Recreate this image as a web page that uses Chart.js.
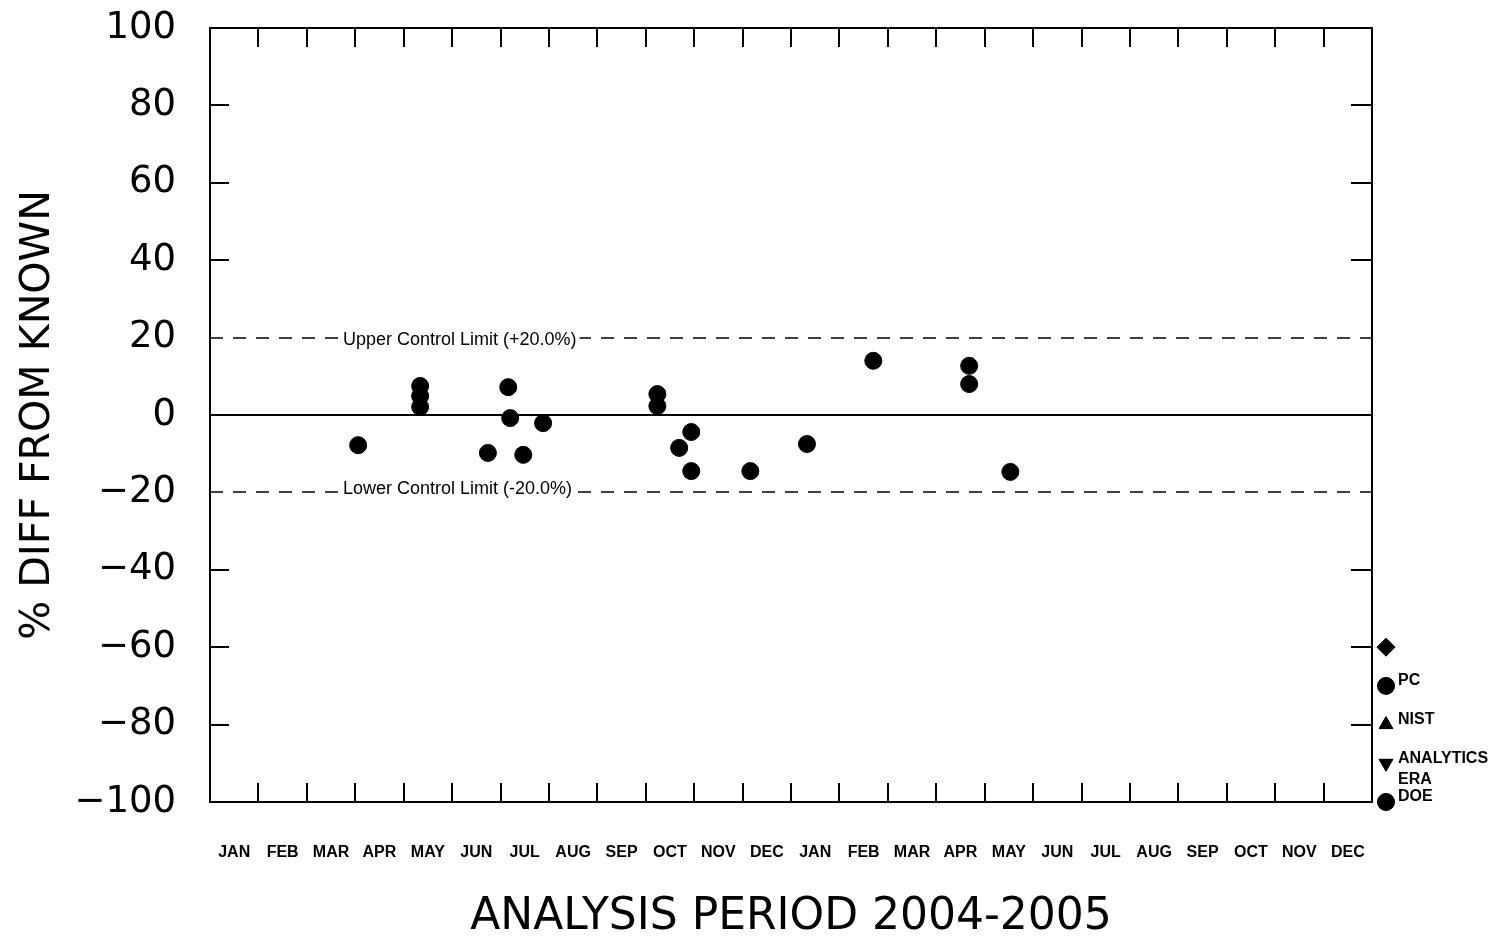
<!DOCTYPE html>
<html>
<head>
<meta charset="utf-8">
<script src="https://cdn.jsdelivr.net/npm/chart.js@4/dist/chart.umd.min.js"></script>
<style>
  html, body { margin: 0; padding: 0; background: #fff; }
  #wrap { width: 1499px; height: 944px; }
</style>
</head>
<body>
<div id="wrap"><canvas id="qcChart" width="1499" height="944"></canvas></div>
<script>
// months Jan 2004 .. Dec 2005
const monthLabels = ["JAN", "FEB", "MAR", "APR", "MAY", "JUN", "JUL", "AUG", "SEP", "OCT", "NOV", "DEC",
                     "JAN", "FEB", "MAR", "APR", "MAY", "JUN", "JUL", "AUG", "SEP", "OCT", "NOV", "DEC"];
// sample date in months since 1 Jan 2004
const sampleMonth = [3.06, 4.34, 4.34, 4.34, 5.74, 6.16, 6.20, 6.47, 6.88, 9.24, 9.24,
                     9.69, 9.94, 9.94, 11.16, 12.33, 13.70, 15.68, 15.68, 16.53];
const pctDiff = [-7.8, 7.5, 4.9, 2.1, -9.8, 7.2, -0.8, -10.3, -2.1, 5.4, 2.3,
                 -8.5, -4.4, -14.5, -14.5, -7.5, 14.0, 12.7, 8.0, -14.7];
const yTicks = [-100, -80, -60, -40, -20, 0, 20, 40, 60, 80, 100];
const upperLimit = 20;
const lowerLimit = -20;
const legendLevels = [-60, -70, -80, -90, -100];
const legendStyles = ["rectRot", "circle", "triangle", "triangleDown", "circle"];
const legendNames = ["", "PC", "NIST", "ANALYTICS", "DOE"];

const smallFont = "bold 16px 'Liberation Sans Narrow', 'Liberation Sans', sans-serif";

const controlChartDecor = {
    id: "controlChartDecor",
    beforeDatasetsDraw(chart) {
        const { ctx, chartArea: a, scales: { x, y } } = chart;
        ctx.save();
        ctx.strokeStyle = "#000";
        ctx.lineWidth = 2;
        ctx.strokeRect(a.left, a.top, a.right - a.left, a.bottom - a.top);

        // inward tick marks
        ctx.beginPath();
        for (let m = 1; m < monthLabels.length; m++) {
            const px = Math.round(x.getPixelForValue(m));
            ctx.moveTo(px, a.top); ctx.lineTo(px, a.top + 19);
            ctx.moveTo(px, a.bottom); ctx.lineTo(px, a.bottom - 19);
        }
        yTicks.forEach(v => {
            if (Math.abs(v) === 100 || Math.abs(v) <= 20) return;
            const py = Math.round(y.getPixelForValue(v));
            ctx.moveTo(a.left, py); ctx.lineTo(a.left + 19, py);
            ctx.moveTo(a.right, py); ctx.lineTo(a.right - 21, py);
        });
        ctx.stroke();

        // zero line
        const y0 = Math.round(y.getPixelForValue(0));
        ctx.beginPath();
        ctx.moveTo(a.left, y0); ctx.lineTo(a.right, y0);
        ctx.stroke();

        // control limits
        ctx.lineWidth = 1.6;
        ctx.setLineDash([13, 10]);
        [upperLimit, lowerLimit].forEach(v => {
            const py = Math.round(y.getPixelForValue(v));
            ctx.beginPath();
            ctx.moveTo(a.left, py); ctx.lineTo(a.right, py);
            ctx.stroke();
        });
        ctx.setLineDash([]);

        ctx.font = "18px 'Liberation Sans', sans-serif";
        ctx.fillStyle = "#000";
        ctx.textBaseline = "middle";
        const tx = a.left + 133;
        const labels = [
            ["Upper Control Limit (+20.0%)", upperLimit, 2],
            ["Lower Control Limit (-20.0%)", lowerLimit, -3]
        ];
        labels.forEach(([txt, v, dy]) => {
            const py = y.getPixelForValue(v) + dy;
            const w = ctx.measureText(txt).width;
            ctx.fillStyle = "#fff";
            ctx.fillRect(tx - 3, py - 8, w + 6, 14);
            ctx.fillStyle = "#000";
            ctx.fillText(txt, tx, py);
        });
        ctx.restore();
    },
    afterDraw(chart) {
        const { ctx, chartArea: a, scales: { y } } = chart;
        ctx.save();
        ctx.fillStyle = "#000";
        ctx.strokeStyle = "#000";
        const sx = a.right + 14;
        legendLevels.forEach((v, i) => {
            const py = y.getPixelForValue(v);
            const style = legendStyles[i];
            if (style === "triangleDown") {
                Chart.helpers.drawPoint(ctx, { pointStyle: "triangle", radius: 8, rotation: 180, borderWidth: 1 }, sx, py);
            } else {
                const r = style === "circle" ? 8.5 : (style === "rectRot" ? 9 : 8);
                Chart.helpers.drawPoint(ctx, { pointStyle: style, radius: r, rotation: 0, borderWidth: 1 }, sx, py);
            }
            ctx.fill();
            ctx.font = smallFont;
            ctx.textBaseline = "middle";
            ctx.fillText(legendNames[i], sx + 12, py - 5);
        });
        // ERA label sits between ANALYTICS and DOE
        ctx.fillText("ERA", sx + 12, y.getPixelForValue(-94.2));
        ctx.restore();
    }
};

new Chart(document.getElementById("qcChart"), {
    type: "scatter",
    data: {
        datasets: [
            {
                label: "PC",
                data: sampleMonth.map((m, i) => ({ x: m, y: pctDiff[i] })),
                backgroundColor: "#000",
                borderColor: "#000",
                pointStyle: "circle",
                pointRadius: 8.5,
                pointHoverRadius: 8.5
            }
        ]
    },
    options: {
        responsive: false,
        animation: false,
        layout: { padding: { top: 28, right: 127, left: 0, bottom: 0 } },
        plugins: {
            legend: { display: false },
            tooltip: { enabled: false }
        },
        scales: {
            x: {
                type: "linear",
                min: 0,
                max: monthLabels.length,
                afterBuildTicks: scale => {
                    scale.ticks = monthLabels.map((_, i) => ({ value: i + 0.5 }));
                },
                afterFit: scale => {
                    scale.height = 142;
                    scale.paddingLeft = 0;
                    scale.paddingRight = 0;
                },
                grid: { display: false },
                border: { display: false },
                ticks: {
                    autoSkip: false,
                    maxRotation: 0,
                    padding: 33,
                    color: "#000",
                    font: { family: "'Liberation Sans Narrow', 'Liberation Sans', sans-serif", size: 16, weight: "bold" },
                    callback: (value) => monthLabels[Math.floor(value)]
                },
                title: {
                    display: true,
                    text: "ANALYSIS PERIOD 2004-2005",
                    color: "#000",
                    font: { family: "'DejaVu Sans', sans-serif", size: 44 },
                    padding: { top: 0, bottom: 0 }
                }
            },
            y: {
                min: -100,
                max: 100,
                afterBuildTicks: scale => {
                    scale.ticks = yTicks.map(v => ({ value: v }));
                },
                afterFit: scale => {
                    scale.width = 210;
                    scale.paddingTop = 0;
                    scale.paddingBottom = 0;
                },
                grid: { display: false },
                border: { display: false },
                ticks: {
                    padding: 26,
                    color: "#000",
                    font: { family: "'DejaVu Sans', sans-serif", size: 37 },
                    callback: (value) => (value < 0 ? "\u2212" + Math.abs(value) : String(value))
                },
                title: {
                    display: true,
                    text: "% DIFF FROM KNOWN",
                    color: "#000",
                    font: { family: "'DejaVu Sans', sans-serif", size: 41 },
                    padding: { top: 14, bottom: 0 }
                }
            }
        }
    },
    plugins: [controlChartDecor]
});
</script>
</body>
</html>
